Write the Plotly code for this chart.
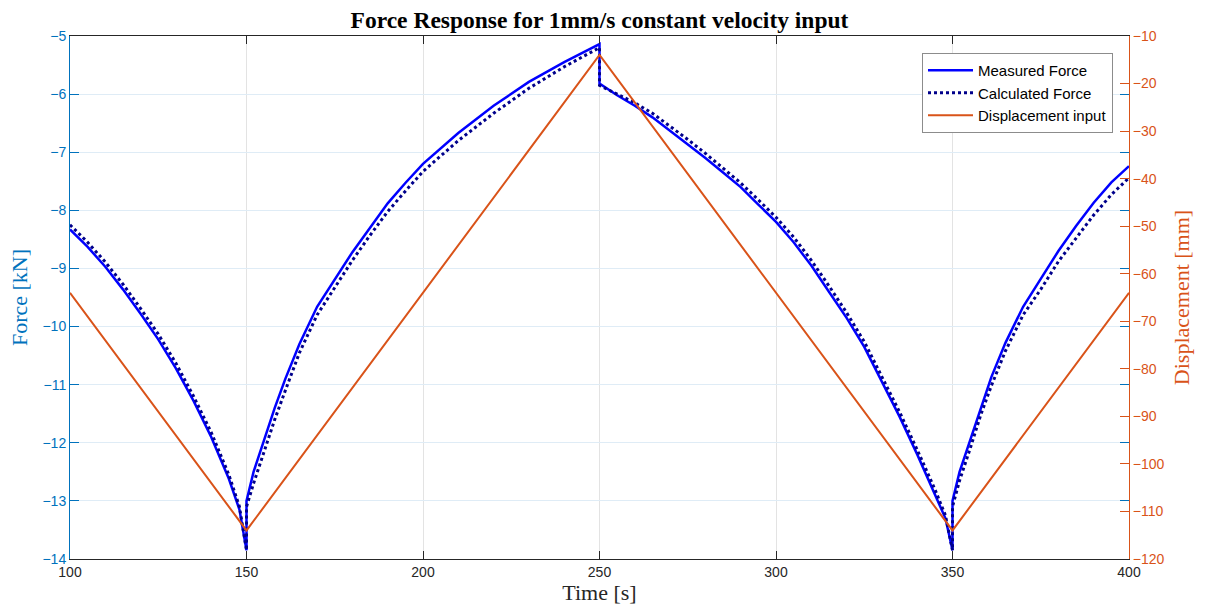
import plotly.graph_objects as go

# ---- data ----
t_force = [100, 105, 110, 115, 120, 125, 130, 135, 140, 145, 148, 150,
           150, 152, 155, 158, 161, 165, 170, 175, 180, 185, 190, 195, 200,
           210, 220, 230, 240, 250,
           250, 255, 260, 265, 270, 275, 280, 285, 290, 295, 300,
           305, 310, 315, 320, 325, 330, 335, 340, 345, 348, 350,
           350, 352, 355, 358, 361, 365, 370, 375, 380, 385, 390, 395, 400]

measured_force = [-8.33, -8.63, -8.97, -9.36, -9.78, -10.22, -10.72, -11.28, -11.9, -12.62, -13.15, -13.85,
                  -13.0, -12.5, -11.95, -11.4, -10.9, -10.3, -9.66, -9.18, -8.72, -8.3, -7.88, -7.53, -7.2,
                  -6.67, -6.2, -5.79, -5.45, -5.14,
                  -5.82, -6.02, -6.2, -6.4, -6.63, -6.87, -7.1, -7.35, -7.6, -7.9, -8.2,
                  -8.55, -8.95, -9.4, -9.85, -10.35, -10.95, -11.55, -12.2, -12.87, -13.3, -13.85,
                  -13.0, -12.5, -11.95, -11.38, -10.87, -10.28, -9.66, -9.18, -8.7, -8.27, -7.87, -7.52, -7.24]

calculated_force = [-8.25, -8.55, -8.89, -9.27, -9.69, -10.13, -10.63, -11.2, -11.82, -12.55, -13.1, -13.85,
                    -13.1, -12.7, -12.15, -11.6, -11.1, -10.45, -9.8, -9.32, -8.86, -8.43, -8.02, -7.67, -7.33,
                    -6.8, -6.33, -5.9, -5.53, -5.2,
                    -5.85, -6.0, -6.15, -6.33, -6.55, -6.78, -7.02, -7.27, -7.53, -7.82, -8.12,
                    -8.46, -8.86, -9.3, -9.76, -10.26, -10.86, -11.47, -12.12, -12.8, -13.25, -13.85,
                    -13.1, -12.65, -12.1, -11.52, -11.02, -10.42, -9.8, -9.36, -8.88, -8.47, -8.08, -7.73, -7.44]

t_disp = [100, 150, 250, 350, 400]
displacement = [-64, -114, -14, -114, -64]

x_ticks = [100, 150, 200, 250, 300, 350, 400]
force_ticks = [-14, -13, -12, -11, -10, -9, -8, -7, -6, -5]
disp_ticks = [-120, -110, -100, -90, -80, -70, -60, -50, -40, -30, -20, -10]

BLUE_AX = "#0072BD"
ORANGE = "#D95319"
DARK = "#262626"
TICKFONT = "Liberation Sans, Arial, sans-serif"
SERIF = "Liberation Serif, Times New Roman, serif"

fig = go.Figure()
fig.add_trace(go.Scatter(x=t_force, y=measured_force, mode="lines", name="Measured Force",
                         line=dict(color="#0000FF", width=2.5)))
fig.add_trace(go.Scatter(x=t_force, y=calculated_force, mode="lines", name="Calculated Force",
                         line=dict(color="#00008B", width=3, dash="dot")))
fig.add_trace(go.Scatter(x=t_disp, y=displacement, mode="lines", name="Displacement input",
                         line=dict(color=ORANGE, width=2), yaxis="y2"))
# helper axis for mirrored force ticks on the right side
fig.add_trace(go.Scatter(x=[], y=[], yaxis="y3", showlegend=False, hoverinfo="skip"))

fig.update_layout(
    width=1206, height=614,
    margin=dict(l=70, r=77, t=36, b=55),
    paper_bgcolor="white", plot_bgcolor="white",
    title=dict(text="<b>Force Response for 1mm/s constant velocity input</b>",
               font=dict(family=SERIF, size=23.5, color="black"),
               x=(70 + 1129) / 2 / 1206, xanchor="center",
               y=1 - 20 / 614, yanchor="middle", yref="container"),
    xaxis=dict(range=[100, 400], tickvals=x_ticks, showgrid=True, gridcolor="#e3e3e3",
               zeroline=False, showline=True, linecolor=DARK, linewidth=1, mirror="ticks",
               ticks="inside", ticklen=8, tickcolor=DARK,
               tickfont=dict(family=TICKFONT, size=14, color=DARK),
               title=dict(text="Time [s]", font=dict(family=SERIF, size=22, color=DARK), standoff=3)),
    yaxis=dict(range=[-14, -5], tickvals=force_ticks, showgrid=True, gridcolor="#dfecf6",
               zeroline=False, showline=True, linecolor=BLUE_AX, linewidth=1,
               ticks="inside", ticklen=9, tickcolor=BLUE_AX,
               tickfont=dict(family=TICKFONT, size=14, color=BLUE_AX),
               title=dict(text="Force [kN]", font=dict(family=SERIF, size=22, color=BLUE_AX), standoff=8)),
    yaxis2=dict(range=[-120, -10], tickvals=disp_ticks, overlaying="y", side="right",
                showgrid=False, zeroline=False, showline=True, linecolor=ORANGE, linewidth=1,
                ticks="inside", ticklen=9, tickcolor=ORANGE,
                tickfont=dict(family=TICKFONT, size=14, color=ORANGE),
                title=dict(text="Displacement [mm]", font=dict(family=SERIF, size=22, color=ORANGE), standoff=10)),
    yaxis3=dict(range=[-14, -5], tickvals=force_ticks, overlaying="y", side="right",
                showgrid=False, zeroline=False, showline=False, showticklabels=False,
                ticks="inside", ticklen=9, tickcolor=BLUE_AX),
    legend=dict(x=(1113 - 70) / 1059, xanchor="right", y=(559 - 53) / 523, yanchor="top",
                bgcolor="white", bordercolor="#8c8c8c", borderwidth=1,
                font=dict(family=TICKFONT, size=15, color="black"),
                itemwidth=45, tracegroupgap=0),
    showlegend=True,
)

fig.write_html("out.html")
